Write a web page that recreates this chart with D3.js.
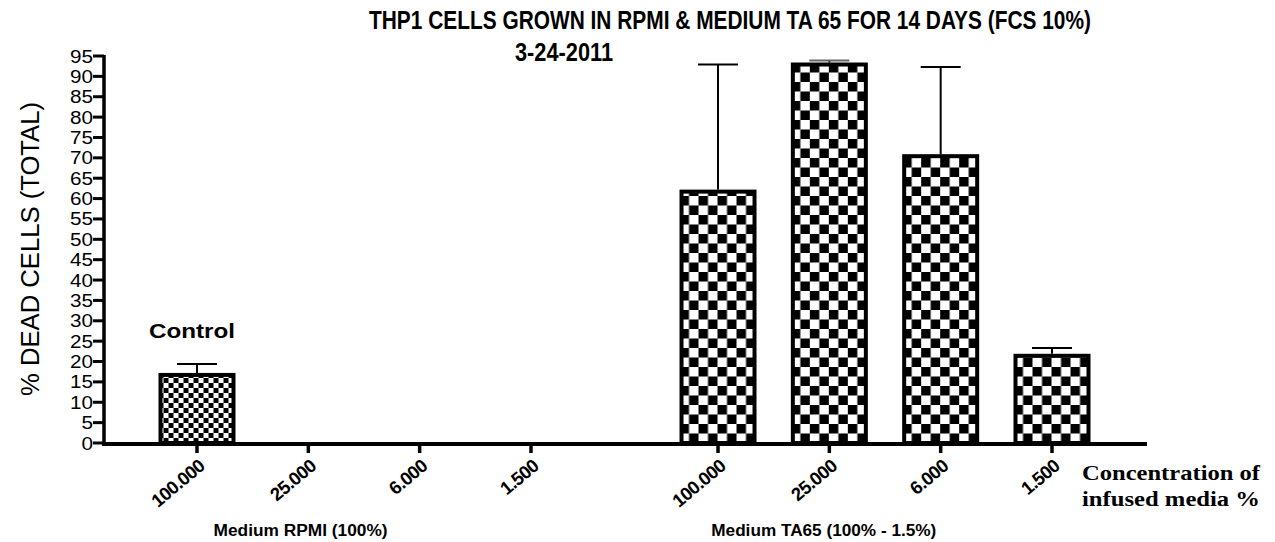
<!DOCTYPE html>
<html>
<head>
<meta charset="utf-8">
<script src="https://cdn.jsdelivr.net/npm/d3@7"></script>
<style>
    body { margin: 0; background: #fff; }
    .chart text { font-family: 'Liberation Sans', Arial, sans-serif; fill: #000; }
    .axe-label--y { font-size: 18px; }
    .axe-label--x { font-size: 18.5px; font-weight: bold; }
    .group-label { font-size: 16px; font-weight: bold; }
    .chart-title { font-size: 25px; font-weight: bold; }
    .axe-title--y { font-size: 26px; }
    .control-label { font-size: 20px; font-weight: bold; }
    .chart text.conc-label { font-family: 'Liberation Serif', 'Times New Roman', serif; font-size: 21px; font-weight: bold; }
</style>
</head>
<body>
<svg class="chart"></svg>
<script>
const width = 1275
const height = 542

// data
const groups = ['Medium RPMI (100%)', 'Medium TA65 (100% - 1.5%)']
const concentrations = ['100.000', '25.000', '6.000', '1.500']
const rpmiValues = [17.2, null, null, null]
const rpmiErrors = [2.2, null, null, null]
const ta65Values = [62.2, 93.4, 70.9, 21.9]
const ta65Errors = [30.7, 0.5, 21.4, 1.4]
const yTicks = [0, 5, 10, 15, 20, 25, 30, 35, 40, 45, 50, 55, 60, 65, 70, 75, 80, 85, 90, 95]

const groupGap = 1.68   // extra slots between the two groups

const bars = []
const allValues = [rpmiValues, ta65Values]
const allErrors = [rpmiErrors, ta65Errors]
groups.forEach((g, gi) => {
    concentrations.forEach((c, ci) => {
        bars.push({
            group: gi,
            label: c,
            slot: gi * (concentrations.length + groupGap - 1) + ci,
            value: allValues[gi][ci],
            err: allErrors[gi][ci]
        })
    })
})

const x = d3.scaleLinear().domain([0, 7.68]).range([197, 1052])
const y = d3.scaleLinear().domain([0, 95]).range([443, 56])
const barWidth = 77
const axisX = 104
const axisEnd = 1147

const svg = d3.select('.chart').attr('width', width).attr('height', height)

// checker patterns, fine for the control, coarse for TA65
const defs = svg.append('defs')
const cellSize = [5, 9.5]
bars.filter(d => d.value != null).forEach((d, i) => {
    const s = cellSize[d.group]
    const p = defs.append('pattern')
        .attr('id', `check-${i}`)
        .attr('patternUnits', 'userSpaceOnUse')
        .attr('width', s * 2).attr('height', s * 2)
        .attr('x', x(d.slot) - barWidth / 2).attr('y', y(0))
    p.append('rect').attr('width', s * 2).attr('height', s * 2).attr('fill', '#fff')
    p.append('rect').attr('width', s).attr('height', s).attr('fill', '#000')
    p.append('rect').attr('x', s).attr('y', s).attr('width', s).attr('height', s).attr('fill', '#000')
    d.patternId = `check-${i}`
})

// title
svg.append('text')
    .attr('class', 'chart-title')
    .attr('x', 730).attr('y', 29)
    .attr('text-anchor', 'middle')
    .attr('textLength', 722).attr('lengthAdjust', 'spacingAndGlyphs')
    .text('THP1 CELLS GROWN IN RPMI & MEDIUM TA 65 FOR 14 DAYS (FCS 10%)')

svg.append('text')
    .attr('class', 'chart-title')
    .attr('x', 564).attr('y', 61)
    .attr('text-anchor', 'middle')
    .attr('textLength', 98).attr('lengthAdjust', 'spacingAndGlyphs')
    .text('3-24-2011')

// bars
const barG = svg.append('g')
const shown = bars.filter(d => d.value != null)

barG.selectAll('rect')
        .data(shown)
    .enter().append('rect')
        .attr('x', d => x(d.slot) - barWidth / 2 + 2)
        .attr('y', d => y(d.value) + 2)
        .attr('width', barWidth - 4)
        .attr('height', d => y(0) - y(d.value) - 2)
        .attr('fill', d => `url(#${d.patternId})`)
        .attr('stroke', '#000')
        .attr('stroke-width', 4)

// error bars
barG.selectAll('line.err')
        .data(shown)
    .enter().append('line')
        .attr('class', 'err')
        .attr('stroke', '#000').attr('stroke-width', 2)
        .attr('x1', d => x(d.slot)).attr('x2', d => x(d.slot))
        .attr('y1', d => y(d.value))
        .attr('y2', d => y(d.value + d.err))

barG.selectAll('line.cap')
        .data(shown)
    .enter().append('line')
        .attr('class', 'cap')
        .attr('stroke', d => d.err < 1 ? '#666' : '#000').attr('stroke-width', 2)
        .attr('x1', d => x(d.slot) - 20).attr('x2', d => x(d.slot) + 20)
        .attr('y1', d => y(d.value + d.err))
        .attr('y2', d => y(d.value + d.err))

// y axis
svg.append('line')
    .attr('stroke', '#000').attr('stroke-width', 3.5)
    .attr('x1', axisX).attr('x2', axisX)
    .attr('y1', y(95) - 1).attr('y2', y(0) + 2)

const yLab = svg.append('g').selectAll('g')
        .data(yTicks)
    .enter().append('g')

yLab.append('line')
    .attr('stroke', '#000').attr('stroke-width', 3)
    .attr('x1', axisX - 11).attr('x2', axisX)
    .attr('y1', d => y(d)).attr('y2', d => y(d))

yLab.append('text')
    .attr('class', 'axe-label--y')
    .attr('x', axisX - 11)
    .attr('y', d => y(d))
    .attr('dy', 6.5)
    .attr('text-anchor', 'end')
    .attr('textLength', d => String(d).length * 11.5)
    .attr('lengthAdjust', 'spacingAndGlyphs')
    .text(d => d)

svg.append('text')
    .attr('class', 'axe-title--y')
    .attr('transform', `translate(39, ${249}) rotate(-90)`)
    .attr('text-anchor', 'middle')
    .attr('textLength', 294).attr('lengthAdjust', 'spacingAndGlyphs')
    .text('% DEAD CELLS (TOTAL)')

// x axis
svg.append('line')
    .attr('stroke', '#000').attr('stroke-width', 4)
    .attr('x1', axisX - 2).attr('x2', axisEnd)
    .attr('y1', y(0) + 1).attr('y2', y(0) + 1)

const xLab = svg.append('g').selectAll('g')
        .data(bars)
    .enter().append('g')

xLab.append('line')
    .attr('stroke', '#000').attr('stroke-width', 3.5)
    .attr('x1', d => x(d.slot)).attr('x2', d => x(d.slot))
    .attr('y1', y(0) + 2).attr('y2', y(0) + 10)

xLab.append('text')
    .attr('class', 'axe-label--x')
    .attr('text-anchor', 'end')
    .attr('letter-spacing', -0.6)
    .attr('transform', d => `translate(${x(d.slot) + 9}, ${y(0) + 25}) rotate(-40)`)
    .text(d => d.label)

// group labels
const groupCenters = [0.93, 5.63]
const groupWidths = [174, 225]
svg.append('g').selectAll('text')
        .data(groups)
    .enter().append('text')
        .attr('class', 'group-label')
        .attr('x', (d, i) => x(groupCenters[i]))
        .attr('y', 536)
        .attr('text-anchor', 'middle')
        .attr('textLength', (d, i) => groupWidths[i]).attr('lengthAdjust', 'spacingAndGlyphs')
        .text(d => d)

svg.append('text')
    .attr('class', 'control-label')
    .attr('x', 192).attr('y', 338)
    .attr('text-anchor', 'middle')
    .attr('textLength', 86).attr('lengthAdjust', 'spacingAndGlyphs')
    .text('Control')

svg.append('text')
    .attr('class', 'conc-label')
    .attr('x', 1082).attr('y', 480)
    .attr('textLength', 178).attr('lengthAdjust', 'spacingAndGlyphs')
    .text('Concentration of')

svg.append('text')
    .attr('class', 'conc-label')
    .attr('x', 1082).attr('y', 506)
    .attr('textLength', 178).attr('lengthAdjust', 'spacingAndGlyphs')
    .text('infused media %')
</script>
</body>
</html>
